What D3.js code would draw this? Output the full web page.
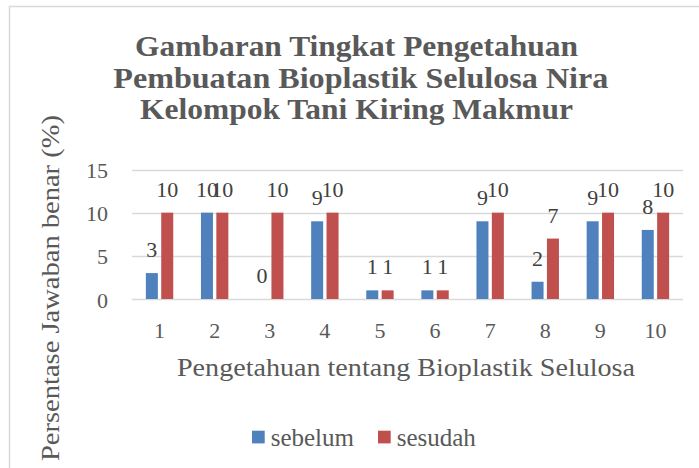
<!DOCTYPE html>
<html>
<head>
<meta charset="utf-8">
<script src="https://cdn.jsdelivr.net/npm/d3@7"></script>
<style>
  html, body { margin: 0; padding: 0; background: #ffffff; }
  svg { display: block; }
  svg text { font-family: "Liberation Serif", "Tinos", "Noto Serif", "DejaVu Serif", serif; }
</style>
</head>
<body>
<svg id="chart" width="699" height="468"></svg>
<script>
// ---- Data ----
const categories = ["1", "2", "3", "4", "5", "6", "7", "8", "9", "10"];
const seriesNames = ["sebelum", "sesudah"];
const sebelum = [3, 10, 0, 9, 1, 1, 9, 2, 9, 8];
const sesudah = [10, 10, 10, 10, 1, 1, 10, 7, 10, 10];
const yTicks = [0, 5, 10, 15];
const titleLines = [
  "Gambaran Tingkat Pengetahuan",
  "Pembuatan Bioplastik Selulosa Nira",
  "Kelompok Tani Kiring Makmur"
];
const xTitle = "Pengetahuan tentang Bioplastik Selulosa";
const yTitle = "Persentase Jawaban benar (%)";

// ---- Build ----
const seriesValues = { sebelum: sebelum, sesudah: sesudah };
const colors = { sebelum: "#4f81bd", sesudah: "#c0504d" };
const TEXT = "#595959";

const svg = d3.select("#chart");

// outer frame (only top and left edges visible)
svg.append("rect")
  .attr("x", 9.5).attr("y", 6.5)
  .attr("width", 720).attr("height", 500)
  .attr("fill", "none").attr("stroke", "#d9d9d9").attr("stroke-width", 1.5);

const plot = { left: 132, right: 683, top: 169.5, bottom: 299 };

const x0 = d3.scaleBand().domain(categories)
  .range([plot.left, plot.right]).paddingInner(0.503).paddingOuter(0.2515);
const x1 = d3.scaleBand().domain(seriesNames)
  .range([0, x0.bandwidth()]).paddingInner(0.22);
const y = d3.scaleLinear().domain([0, 15]).range([plot.bottom, plot.top]);

// gridlines
svg.append("g").selectAll("line").data(yTicks).join("line")
  .attr("x1", plot.left).attr("x2", plot.right)
  .attr("y1", d => Math.round(y(d)) + 0.5).attr("y2", d => Math.round(y(d)) + 0.5)
  .attr("stroke", "#d9d9d9").attr("stroke-width", 1.3);

// y tick labels
svg.append("g").selectAll("text").data(yTicks).join("text")
  .attr("x", 108).attr("y", d => y(d) + 8.5)
  .attr("text-anchor", "end")
  .attr("font-size", 22).attr("fill", TEXT)
  .text(d => d);

// x tick labels
svg.append("g").selectAll("text").data(categories).join("text")
  .attr("x", d => x0(d) + x0.bandwidth() / 2).attr("y", 338)
  .attr("text-anchor", "middle")
  .attr("font-size", 22).attr("fill", TEXT)
  .text(d => d);

// bars + labels
const rows = categories.map((c, i) => ({
  cat: c,
  vals: seriesNames.map(s => ({ key: s, value: seriesValues[s][i] }))
}));

const groups = svg.append("g").selectAll("g").data(rows).join("g")
  .attr("transform", d => `translate(${x0(d.cat)},0)`);

groups.selectAll("rect").data(d => d.vals).join("rect")
  .attr("x", d => x1(d.key)).attr("width", x1.bandwidth())
  .attr("y", d => y(d.value)).attr("height", d => y(0) - y(d.value))
  .attr("fill", d => colors[d.key]);

groups.selectAll("text").data(d => d.vals).join("text")
  .attr("x", d => x1(d.key) + x1.bandwidth() / 2)
  .attr("y", d => y(d.value) - 16)
  .attr("text-anchor", "middle")
  .attr("font-size", 22).attr("fill", "#404040")
  .text(d => d.value);

// title
const titleX = [135, 113.3, 140];
const titleLen = [443, 495, 433];
const titleY = [56, 87.5, 119];
svg.append("g").selectAll("text").data(titleLines).join("text")
  .attr("x", (d, i) => titleX[i]).attr("y", (d, i) => titleY[i])
  .attr("textLength", (d, i) => titleLen[i]).attr("lengthAdjust", "spacingAndGlyphs")
  .attr("font-weight", "bold").attr("font-size", 30)
  .attr("fill", TEXT)
  .text(d => d);

// x axis title
svg.append("text")
  .attr("x", 177).attr("y", 376)
  .attr("textLength", 458).attr("lengthAdjust", "spacingAndGlyphs")
  .attr("font-size", 25).attr("fill", TEXT)
  .text(xTitle);

// y axis title
svg.append("text")
  .attr("transform", "translate(59.3,461) rotate(-90)")
  .attr("x", 0).attr("y", 0)
  .attr("textLength", 346).attr("lengthAdjust", "spacingAndGlyphs")
  .attr("font-size", 25).attr("fill", TEXT)
  .text(yTitle);

// legend
const legendX = [252, 378];
const legend = svg.append("g").selectAll("g").data(seriesNames).join("g")
  .attr("transform", (d, i) => `translate(${legendX[i]},0)`);
legend.append("rect")
  .attr("x", 0).attr("y", 430.7).attr("width", 12.7).attr("height", 12.7)
  .attr("fill", d => colors[d]);
legend.append("text")
  .attr("x", 18.7).attr("y", 445.7)
  .attr("font-size", 25).attr("fill", TEXT)
  .text(d => d);
</script>
</body>
</html>
